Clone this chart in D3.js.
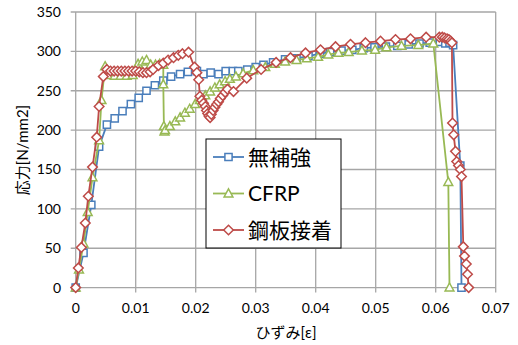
<!DOCTYPE html>
<html>
<head>
<meta charset="utf-8">
<script src="https://cdn.jsdelivr.net/npm/d3@7"></script>
<style>
  body { margin: 0; background: #fff; }
  text { font-family: Lato, "Noto Sans CJK JP", sans-serif; fill: #000; }
</style>
</head>
<body>
<script>
const width = 518;
const height = 345;

// 無補強
const strainPlain = [0, 0.0013, 0.0026, 0.0039, 0.0052, 0.0065, 0.0078, 0.0092, 0.0105, 0.0118, 0.0132, 0.0146, 0.0159, 0.0174, 0.0187, 0.0202, 0.0213, 0.0225, 0.0238, 0.025, 0.0262, 0.0271, 0.0286, 0.0300, 0.0313, 0.0329, 0.0349, 0.0368, 0.0388, 0.0407, 0.0424, 0.0443, 0.0461, 0.0480, 0.0498, 0.0517, 0.0536, 0.0555, 0.0573, 0.0590, 0.0607, 0.0616, 0.0623, 0.0629, 0.0641, 0.0643];
const stressPlain = [0, 44, 105, 179, 207, 215, 224, 233, 241, 250, 257, 263, 268, 271, 274, 275, 271, 273, 271, 275, 275, 275, 277, 280, 283, 286, 290, 291, 294, 297, 299, 301, 302, 304, 305, 306, 307, 309, 310, 311, 312, 310, 311, 308, 155, 0];

// CFRP
const strainCfrp = [0, 0.00055, 0.0013, 0.002, 0.0028, 0.0039, 0.0043, 0.0049, 0.0055, 0.0065, 0.0075, 0.0085, 0.0095, 0.0104, 0.0111, 0.0118, 0.0125, 0.0133, 0.0140, 0.0146, 0.0146, 0.0147, 0.0148, 0.0149, 0.0157, 0.0166, 0.0174, 0.0182, 0.0190, 0.0199, 0.0207, 0.0216, 0.0224, 0.0232, 0.0240, 0.0249, 0.0257, 0.0267, 0.0279, 0.0296, 0.0316, 0.0332, 0.0349, 0.0368, 0.0385, 0.0404, 0.0421, 0.0438, 0.0455, 0.0477, 0.0499, 0.0518, 0.0543, 0.0571, 0.0596, 0.0621, 0.0623];
const stressCfrp = [0, 23, 56, 96, 140, 187, 238, 281, 270, 269, 269, 269, 270, 284, 287, 289, 283, 283, 284, 283, 258, 205, 198, 200, 205, 211, 216, 222, 227, 233, 238, 244, 249, 254, 258, 262, 265, 268, 272, 276, 280, 284, 287, 289, 291, 293, 296, 298, 299, 301, 302, 305, 307, 308, 310, 134, 0];

// 鋼板接着
const strainSteel = [0, 0.00044, 0.00094, 0.0016, 0.0021, 0.0028, 0.0035, 0.0039, 0.0046, 0.0052, 0.0058, 0.0064, 0.0070, 0.0076, 0.0082, 0.0088, 0.0094, 0.0100, 0.0106, 0.0112, 0.0118, 0.0124, 0.0129, 0.0138, 0.0146, 0.0154, 0.0163, 0.0171, 0.0178, 0.0188, 0.0198, 0.0202, 0.0205, 0.0207, 0.0210, 0.0213, 0.0216, 0.0218, 0.0220, 0.0222, 0.0224, 0.0226, 0.0229, 0.0232, 0.0235, 0.0238, 0.0241, 0.0245, 0.0249, 0.0253, 0.0263, 0.0285, 0.0309, 0.0334, 0.0358, 0.0383, 0.0408, 0.0433, 0.0458, 0.0483, 0.0508, 0.0533, 0.0558, 0.0584, 0.0606, 0.0611, 0.0615, 0.0619, 0.0622, 0.0625, 0.0627, 0.0628, 0.0630, 0.0633, 0.0635, 0.0638, 0.0641, 0.0643, 0.0646, 0.0648, 0.0651, 0.0653, 0.0655];
const stressSteel = [0, 25, 51, 82, 116, 153, 191, 230, 268, 277, 275, 275, 275, 275, 275, 275, 275, 275, 274, 273, 273, 274, 277, 282, 285, 289, 292, 295, 297, 299, 280, 273, 264, 243, 238, 234, 230, 225, 221, 218, 216, 220, 225, 229, 233, 236, 240, 244, 248, 252, 249, 266, 277, 286, 292, 298, 302, 306, 309, 311, 313, 315, 316, 318, 318, 318, 317, 316, 315, 313, 311, 209, 194, 173, 160, 155, 150, 141, 52, 40, 30, 17, 0];

const seriesNames = ["無補強", "CFRP", "鋼板接着"];
const xTicks = [0, 0.01, 0.02, 0.03, 0.04, 0.05, 0.06, 0.07];
const xTickLabels = ["0", "0.01", "0.02", "0.03", "0.04", "0.05", "0.06", "0.07"];
const yTicks = [0, 50, 100, 150, 200, 250, 300, 350];

const series = [
  { name: seriesNames[0], x: strainPlain, y: stressPlain, color: "#4A7EBB", marker: "square" },
  { name: seriesNames[1], x: strainCfrp, y: stressCfrp, color: "#98B954", marker: "triangle" },
  { name: seriesNames[2], x: strainSteel, y: stressSteel, color: "#BE4B48", marker: "diamond" }
];

const xScale = d3.scaleLinear().domain([0, 0.07]).range([75.7, 495.7]);
const yScale = d3.scaleLinear().domain([0, 350]).range([287.6, 12]);

const svg = d3.select("body").append("svg")
  .attr("width", width).attr("height", height)
  .attr("xmlns", "http://www.w3.org/2000/svg");

// grid
svg.append("g").selectAll("line").data(xTicks).enter().append("line")
  .attr("x1", d => xScale(d)).attr("x2", d => xScale(d))
  .attr("y1", yScale(350)).attr("y2", yScale(0) + 5)
  .attr("stroke", "#a6a6a6").attr("stroke-width", 1.3);
svg.append("g").selectAll("line").data(yTicks).enter().append("line")
  .attr("x1", xScale(0) - 5).attr("x2", xScale(0.07))
  .attr("y1", d => yScale(d)).attr("y2", d => yScale(d))
  .attr("stroke", "#a6a6a6").attr("stroke-width", 1.3);

// tick labels
svg.append("g").selectAll("text").data(xTicks).enter().append("text")
  .attr("x", d => xScale(d)).attr("y", 313)
  .attr("text-anchor", "middle").attr("font-size", "14px")
  .text((d, i) => xTickLabels[i]);
svg.append("g").selectAll("text").data(yTicks).enter().append("text")
  .attr("x", 61).attr("y", d => yScale(d) + 5)
  .attr("text-anchor", "end").attr("font-size", "14px")
  .text(d => d);

// axis titles
svg.append("text").attr("x", 286).attr("y", 338)
  .attr("text-anchor", "middle").attr("font-size", "15px")
  .text("ひずみ[ε]");
svg.append("text").attr("transform", "translate(28,150) rotate(-90)")
  .attr("text-anchor", "middle").attr("font-size", "15px")
  .text("応力[N/mm2]");

function markerPath(type) {
  if (type === "square") return "M-3.6,-3.6H3.6V3.6H-3.6Z";
  if (type === "triangle") return "M0,-4.6L4.4,3.4H-4.4Z";
  return "M0,-4.8L4.8,0L0,4.8L-4.8,0Z";
}

const line = d3.line().x(d => xScale(d[0])).y(d => yScale(d[1]));

series.forEach(s => {
  const pts = s.x.map((v, i) => [v, s.y[i]]);
  const g = svg.append("g");
  g.append("path").attr("d", line(pts))
    .attr("fill", "none").attr("stroke", s.color).attr("stroke-width", 1.8);
  g.selectAll("path.m").data(pts).enter().append("path")
    .attr("class", "m")
    .attr("d", markerPath(s.marker))
    .attr("transform", d => `translate(${xScale(d[0])},${yScale(d[1])})`)
    .attr("fill", "#fff").attr("stroke", s.color).attr("stroke-width", 1.5);
});

// legend
const legend = svg.append("g");
legend.append("rect").attr("x", 206).attr("y", 139).attr("width", 135).attr("height", 109)
  .attr("fill", "#fff").attr("stroke", "#000").attr("stroke-width", 1);
series.forEach((s, i) => {
  const cy = 157 + i * 36.5;
  legend.append("line").attr("x1", 213).attr("x2", 244).attr("y1", cy).attr("y2", cy)
    .attr("stroke", s.color).attr("stroke-width", 1.8);
  legend.append("path").attr("d", markerPath(s.marker))
    .attr("transform", `translate(228.5,${cy})`)
    .attr("fill", "#fff").attr("stroke", s.color).attr("stroke-width", 1.5);
  legend.append("text").attr("x", 248).attr("y", cy + 7.5)
    .attr("font-size", "21px").text(s.name);
});
</script>
</body>
</html>
